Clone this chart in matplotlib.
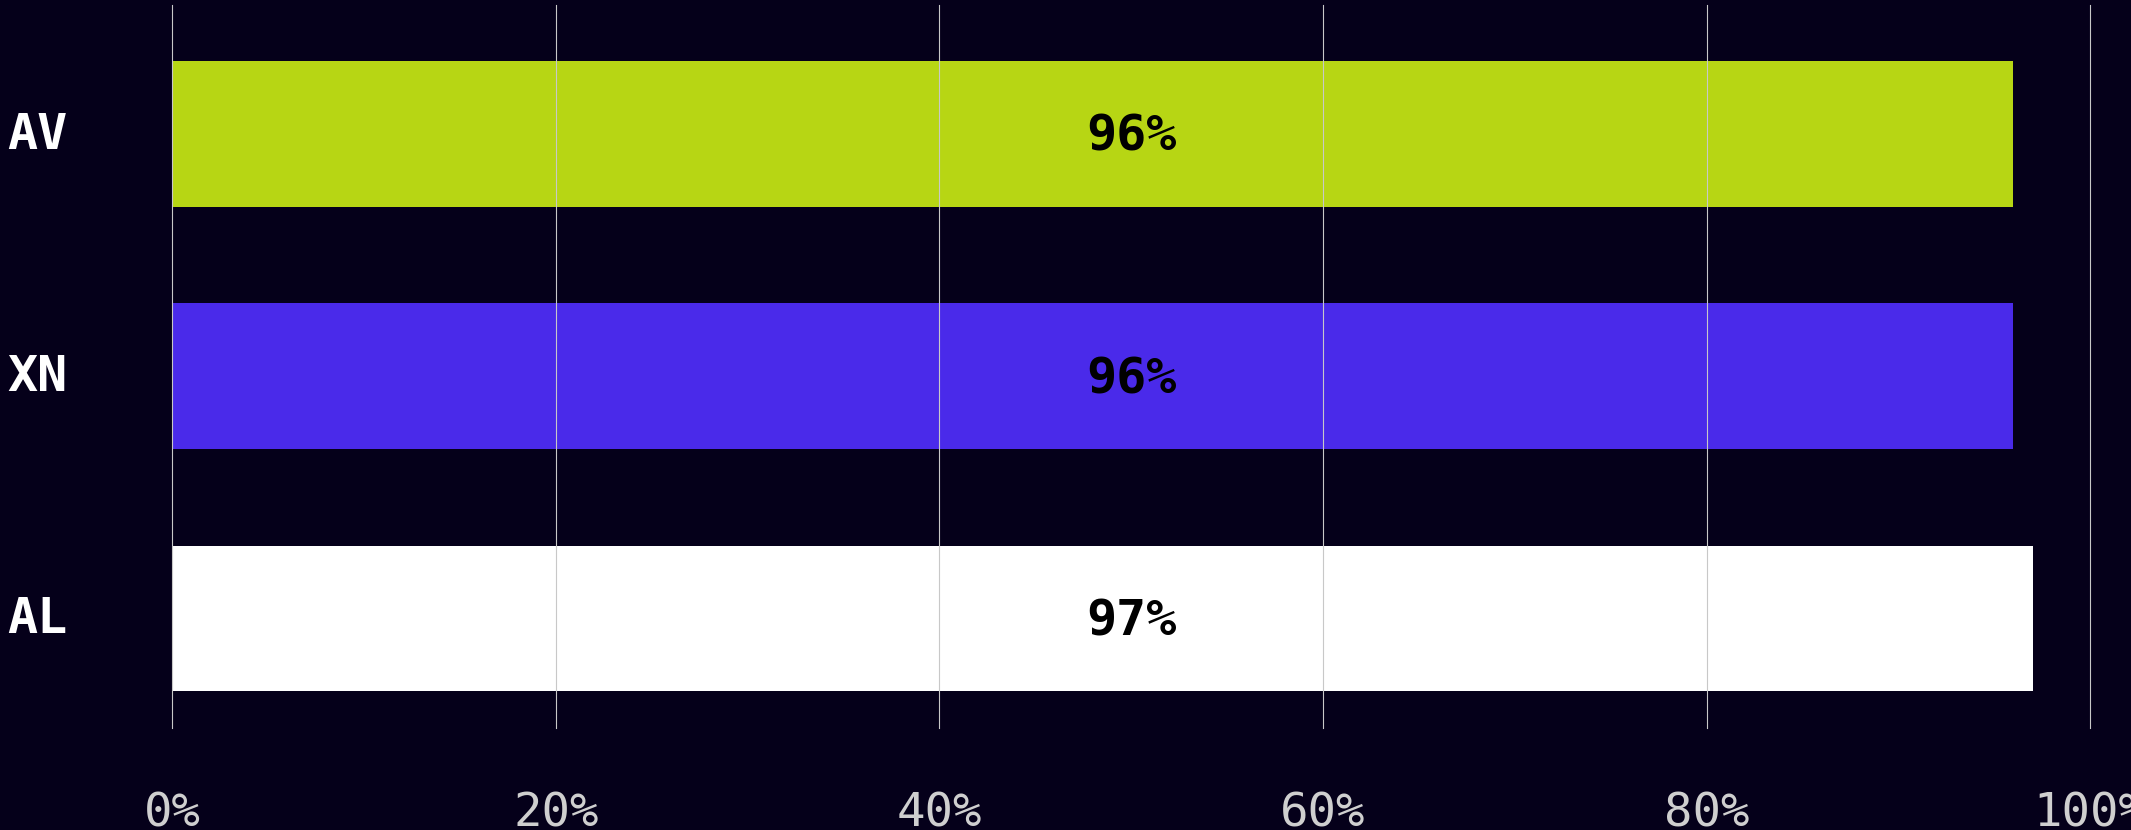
import matplotlib
matplotlib.use("Agg")
import matplotlib.pyplot as plt
from matplotlib.transforms import ScaledTranslation

# scores per model, top to bottom
models = ["AV", "XN", "AL"]
scores = [96, 96, 97]
bar_colors = ["#b7d614", "#4a2aea", "#ffffff"]
x_ticks = [0, 20, 40, 60, 80, 100]
x_tick_labels = ["0%", "20%", "40%", "60%", "80%", "100%"]

BG = "#05001a"
MONO = "DejaVu Sans Mono"

fig = plt.figure(figsize=(21.31, 8.30), dpi=100, facecolor=BG)
ax = fig.add_axes([0.0809, 0.1229, 0.8999, 0.8711], facecolor=BG)

ypos = list(range(len(models)))
ax.barh(ypos, scores, height=0.6, color=bar_colors, zorder=1)

for y, v in zip(ypos, scores):
    ax.text(50, y + 0.012, f"{v}%", ha="center", va="center", fontsize=36,
            fontweight="bold", family=MONO, color="black", zorder=3)

ax.set_xlim(0, 100)
ax.set_ylim(2.4526, -0.532)

ax.set_xticks(x_ticks)
ax.set_xticklabels(x_tick_labels, family=MONO, fontsize=34, color="#cfcfcf")
ax.set_yticks(ypos)
ax.set_yticklabels(models, family=MONO, fontsize=36, fontweight="bold",
                   color="white", ha="left", va="center_baseline")

ax.tick_params(axis="x", length=0, pad=46)
ax.tick_params(axis="y", length=0, pad=119)

# nudge the model names up a little
shift = ScaledTranslation(0, 3 / 72, fig.dpi_scale_trans)
for lbl in ax.get_yticklabels():
    lbl.set_transform(lbl.get_transform() + shift)

ax.grid(axis="x", color="#c8c8c8", linewidth=0.8, zorder=2)
ax.set_axisbelow(False)
for gl in ax.get_xgridlines():
    gl.set_clip_on(False)
for s in ax.spines.values():
    s.set_visible(False)

fig.savefig("out.png", dpi=100, facecolor=BG)
